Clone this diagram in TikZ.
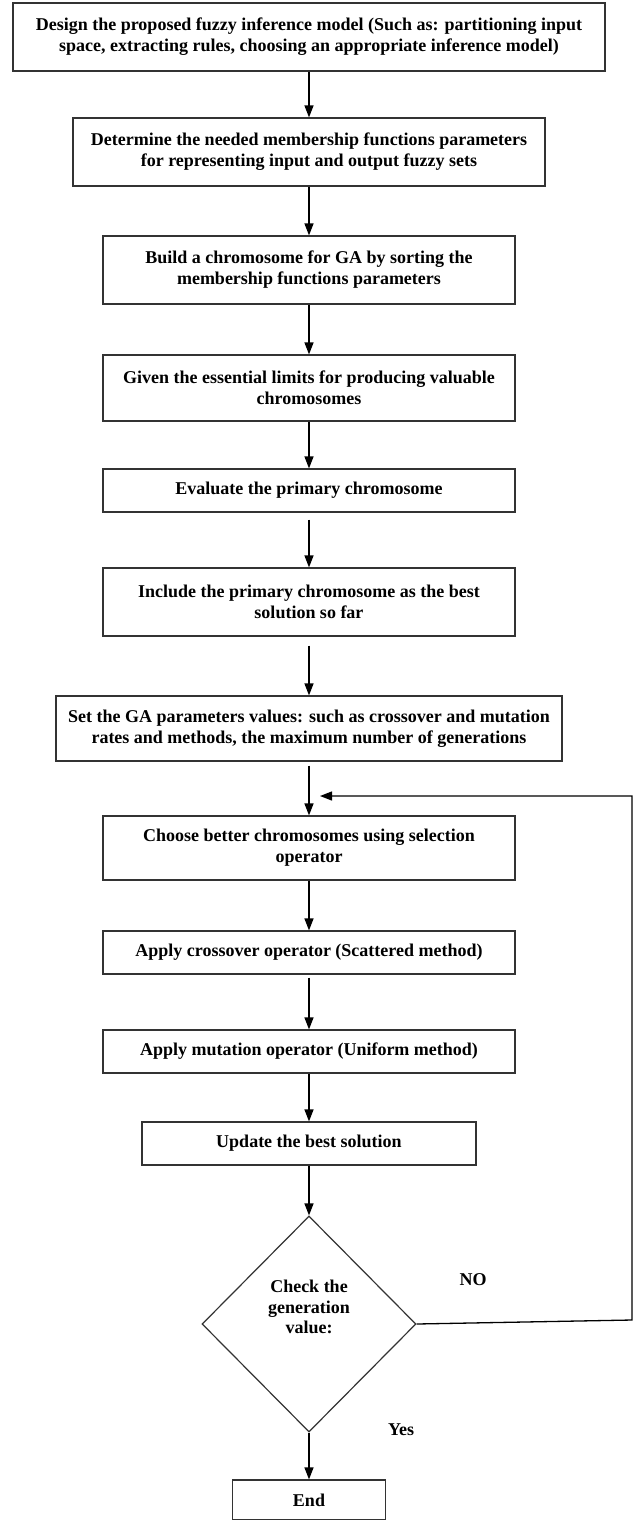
\documentclass[tikz,border=0pt]{standalone}
\usepackage{fontspec}
\setmainfont{Liberation Serif}
\usetikzlibrary{arrows.meta,shapes.geometric}
\begin{document}
\begin{tikzpicture}[x=1pt,y=-1pt,
  box/.style={draw=black!80, line width=1.2pt, inner sep=0pt, align=center,
    font=\bfseries\fontsize{18}{21}\selectfont},
  lbl/.style={inner sep=0pt, align=center, font=\bfseries\fontsize{18}{20.5}\selectfont},
  arr/.style={-{Triangle[length=12pt,width=9pt]}, line width=1.3pt, black}]
\useasboundingbox (0,0) rectangle (635,1520);
\fill[white] (0,0) rectangle (635,1520);
\node[box, minimum width=592pt, minimum height=68pt] (b1) at (309,37) {Design the proposed fuzzy inference model (Such as: partitioning input\\space, extracting rules, choosing an appropriate inference model)};
\node[box, minimum width=472pt, minimum height=68pt] (b2) at (309,152) {Determine the needed membership functions parameters\\for representing input and output fuzzy sets};
\node[box, minimum width=412pt, minimum height=68pt] (b3) at (309,270) {Build a chromosome for GA by sorting the\\membership functions parameters};
\node[box, minimum width=412pt, minimum height=66pt] (b4) at (309,388) {Given the essential limits for producing valuable\\chromosomes};
\node[box, minimum width=412pt, minimum height=43pt] (b5) at (309,490.5) {Evaluate the primary chromosome};
\node[box, minimum width=412pt, minimum height=68pt] (b6) at (309,602) {Include the primary chromosome as the best\\solution so far};
\node[box, minimum width=506pt, minimum height=65pt] (b7) at (309,728.5) {Set the GA parameters values: such as crossover and mutation\\rates and methods, the maximum number of generations};
\node[box, minimum width=412pt, minimum height=64pt] (b8) at (309,848) {Choose better chromosomes using selection\\operator};
\node[box, minimum width=412pt, minimum height=43pt] (b9) at (309,952.5) {Apply crossover operator (Scattered method)};
\node[box, minimum width=412pt, minimum height=43pt] (b10) at (309,1051.5) {Apply mutation operator (Uniform method)};
\node[box, minimum width=334pt, minimum height=43pt] (b11) at (309,1143.5) {Update the best solution};
\node[draw=black!80, line width=1.2pt, diamond, inner sep=0pt, minimum width=214pt, minimum height=216pt] (dia) at (309,1324) {};
\node[lbl] (dtext) at (309,1307) {Check the\\generation\\value:};
\node[box, minimum width=153pt, minimum height=40pt] (end) at (309,1500) {End};
\node[lbl] (no) at (473,1280) {NO};
\node[lbl] (yes) at (401,1430) {Yes};
\coordinate (fb1) at (632,1320);
\coordinate (fb2) at (632,796);
\coordinate (fbend) at (320,796);
\draw[arr] (b1.south) -- (b2.north);
\draw[arr] (b2.south) -- (b3.north);
\draw[arr] (b3.south) -- (b4.north);
\draw[arr] (b4.south) -- (b5.north);
\draw[arr] ([yshift=-7pt]b5.south) -- (b6.north);
\draw[arr] ([yshift=-9pt]b6.south) -- (b7.north);
\draw[arr] ([yshift=-4pt]b7.south) -- (b8.north);
\draw[arr] (b8.south) -- (b9.north);
\draw[arr] ([yshift=-3pt]b9.south) -- (b10.north);
\draw[arr] (b10.south) -- (b11.north);
\draw[arr] (b11.south) -- (dia.north);
\draw[arr] (dia.south) -- (end.north);
\draw[arr] (dia.east) -- (fb1) -- (fb2) -- (fbend);
\end{tikzpicture}
\end{document}
